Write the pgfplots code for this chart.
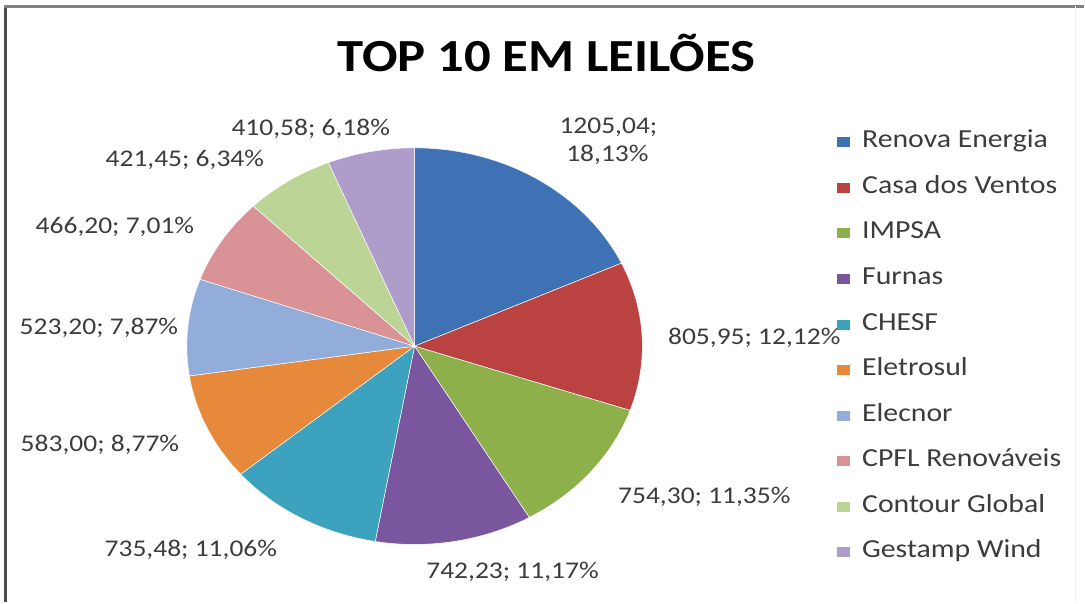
\documentclass[border=0pt]{standalone}
\usepackage{fontspec}
\setmainfont{Carlito}[FakeStretch=1.146]
\usepackage{pgfplots}
\usepackage{pgfplotstable}
\pgfplotsset{compat=1.18}

\definecolor{c0}{HTML}{3E72B4}
\definecolor{c1}{HTML}{BA4341}
\definecolor{c2}{HTML}{8DB04A}
\definecolor{c3}{HTML}{7A569E}
\definecolor{c4}{HTML}{3DA2BE}
\definecolor{c5}{HTML}{E7893A}
\definecolor{c6}{HTML}{93ADDA}
\definecolor{c7}{HTML}{D99295}
\definecolor{c8}{HTML}{BCD496}
\definecolor{c9}{HTML}{AE9DCA}
\definecolor{labtext}{HTML}{3C3C3C}

% values of the ten companies (clockwise from 12 o'clock)
\pgfplotstableread{
value
1205.04
805.95
754.30
742.23
735.48
583.00
523.20
466.20
421.45
410.58
}\piedata

\begin{document}
\begin{tikzpicture}
% total and cumulative angles computed from the table values
\xdef\total{0}
\pgfplotstableforeachcolumnelement{value}\of\piedata\as\v{%
  \pgfmathparse{\total+\v}\xdef\total{\pgfmathresult}}
\xdef\cum{0}
\pgfplotstableforeachcolumnelement{value}\of\piedata\as\v{%
  \pgfmathparse{90-360*(\cum/\total)}%
  \expandafter\xdef\csname angS\pgfplotstablerow\endcsname{\pgfmathresult}%
  \pgfmathparse{\cum+\v}\xdef\cum{\pgfmathresult}%
  \pgfmathparse{90-360*(\cum/\total)}%
  \expandafter\xdef\csname angE\pgfplotstablerow\endcsname{\pgfmathresult}%
}
\begin{axis}[
  scale only axis,
  width=542.5pt, height=301.5pt,
  xmin=0, xmax=1085, ymin=0, ymax=603,
  hide axis, clip=false,
  legend cell align=left,
  legend image code/.code={\fill[#1,draw=none] (0pt,-2.5pt) rectangle (6.5pt,2.5pt);},
  legend style={at={(axis cs:838,471)}, anchor=north west, draw=none, fill=none,
    font=\fontsize{13}{15}\selectfont\color{labtext},
    inner sep=0pt, outer sep=0pt, row sep=12.3pt, column sep=6pt,
    nodes={inner sep=0pt, text height=8pt, text depth=2.5pt}},
]
% frame (bounding area and visible borders)
\path (axis cs:0,0) rectangle (axis cs:1085,603);
\draw[color=black!70, line width=1.6pt] (axis cs:5.5,0) -- (axis cs:5.5,596.5);
\draw[color=black!50, line width=1.1pt] (axis cs:4,596.5) -- (axis cs:1085,596.5);
\draw[color=black!6, line width=0.5pt] (axis cs:1077,0) -- (axis cs:1077,596.5);

\pgfplotsinvokeforeach{0,...,9}{
  \edef\tmp{\noexpand\addplot[fill=c#1, draw=white, line width=0.25pt, samples=60,
     domain=\csname angE#1\endcsname:\csname angS#1\endcsname]}
  \tmp ({415+228*cos(x)},{256.5+198.5*sin(x)}) -- (axis cs:415,256.5) -- cycle;
}
\legend{Renova Energia, Casa dos Ventos, IMPSA, Furnas, CHESF, Eletrosul, Elecnor, CPFL Renováveis, Contour Global, Gestamp Wind}

% title
\node[anchor=base, font=\fontsize{23}{26}\selectfont\bfseries] at (axis cs:547,531) {TOP 10 EM LEILÕES};

% data labels
\begin{scope}[every node/.style={anchor=base, font=\fontsize{12}{14}\selectfont, text=labtext}]
\node at (axis cs:609,469) {1205,04;};
\node at (axis cs:608,441) {18,13\%};
\node at (axis cs:755,258) {805,95; 12,12\%};
\node at (axis cs:705,99) {754,30; 11,35\%};
\node at (axis cs:513,24) {742,23; 11,17\%};
\node at (axis cs:191,46) {735,48; 11,06\%};
\node at (axis cs:100,151) {583,00; 8,77\%};
\node at (axis cs:99,268) {523,20; 7,87\%};
\node at (axis cs:115,369) {466,20; 7,01\%};
\node at (axis cs:185,436) {421,45; 6,34\%};
\node at (axis cs:311,467) {410,58; 6,18\%};
\end{scope}
\end{axis}
\end{tikzpicture}
\end{document}
